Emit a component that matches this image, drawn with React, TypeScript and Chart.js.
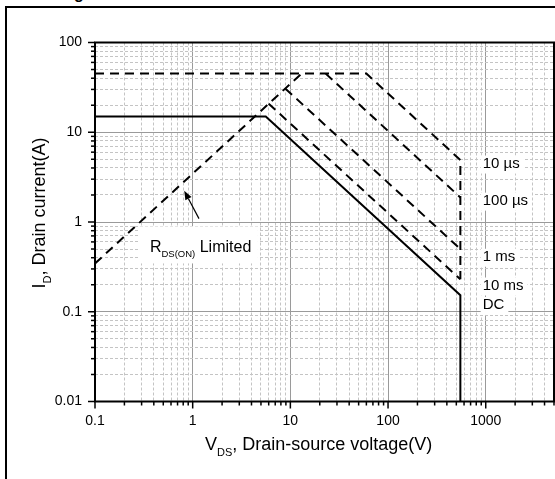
import React, { useEffect, useRef } from 'react';
import { Chart, registerables } from 'chart.js';

Chart.register(...registerables);

const FONT = 'Arial, "Liberation Sans", Helvetica, sans-serif';

// ---- curves: drain-source voltage (V) / drain current (A) ----
const rdsVoltage = [0.1, 13];
const rdsCurrent = [0.345, 45];
const pulse10usVoltage = [0.1, 60, 550, 550];
const pulse10usCurrent = [45, 45, 4.9, 0.23];
const pulse100usVoltage = [23, 550];
const pulse100usCurrent = [45, 1.88];
const pulse1msVoltage = [8.9, 550];
const pulse1msCurrent = [30.6, 0.5];
const pulse10msVoltage = [6.0, 550];
const pulse10msCurrent = [20.8, 0.23];
const dcVoltage = [0.1, 5.6, 550, 550];
const dcCurrent = [15, 15, 0.153, 0.01];

// ---- axes ----
const xMajorTicks = [0.1, 1, 10, 100, 1000];
const xTickLabels = ['0.1', '1', '10', '100', '1000'];
const xMinorTicks = [
  0.2, 0.3, 0.4, 0.5, 0.6, 0.7, 0.8, 0.9,
  2, 3, 4, 5, 6, 7, 8, 9,
  20, 30, 40, 50, 60, 70, 80, 90,
  200, 300, 400, 500, 600, 700, 800, 900,
  2000, 3000, 4000, 5000,
];
const yMajorTicks = [0.01, 0.1, 1, 10, 100];
const yTickLabels = ['0.01', '0.1', '1', '10', '100'];
const yMinorTicks = [
  0.02, 0.03, 0.04, 0.05, 0.06, 0.07, 0.08, 0.09,
  0.2, 0.3, 0.4, 0.5, 0.6, 0.7, 0.8, 0.9,
  2, 3, 4, 5, 6, 7, 8, 9,
  20, 30, 40, 50, 60, 70, 80, 90,
];

// ---- annotations ----
const curveLabels = ['10 µs', '100 µs', '1 ms', '10 ms', 'DC'];
const curveLabelVoltage = [931, 931, 931, 931, 931];
const curveLabelCurrent = [4.48, 1.73, 0.41, 0.196, 0.119];
const rdsLabelVoltage = 0.365;
const rdsLabelCurrent = 0.458;
const arrowTail = { v: 1.16, i: 1.09 };
const arrowHead = { v: 0.82, i: 2.23 };

const pts = (v: number[], i: number[]) => v.map((x, k) => ({ x, y: i[k] }));
const tickList = (maj: number[], min: number[]) =>
  [...maj.map((v) => ({ value: v, major: true })), ...min.map((v) => ({ value: v, major: false }))].sort(
    (a, b) => a.value - b.value
  );

const lineDs = (data: any, dashed: boolean) => ({
  data,
  borderColor: '#000',
  borderWidth: 2,
  borderDash: dashed ? [9, 6] : [],
  pointRadius: 0,
  tension: 0,
  fill: false,
  borderJoinStyle: 'miter',
  borderCapStyle: 'butt',
});

const drawSubText = (
  ctx: CanvasRenderingContext2D,
  parts: { t: string; sub?: boolean }[],
  x: number,
  y: number,
  size: number,
  subSize: number,
  subDrop: number,
  align: 'left' | 'center'
) => {
  const widths = parts.map((p) => {
    ctx.font = `${p.sub ? subSize : size}px ${FONT}`;
    return ctx.measureText(p.t).width;
  });
  const total = widths.reduce((a, b) => a + b, 0);
  let cx = align === 'center' ? x - total / 2 : x;
  ctx.textBaseline = 'alphabetic';
  ctx.textAlign = 'left';
  parts.forEach((p, k) => {
    ctx.font = `${p.sub ? subSize : size}px ${FONT}`;
    ctx.fillText(p.t, cx, y + (p.sub ? subDrop : 0));
    cx += widths[k];
  });
  return total;
};

const decorPlugin = {
  id: 'decor',
  afterDatasetsDraw(chart: any) {
    const ctx: CanvasRenderingContext2D = chart.ctx;
    const xs = chart.scales.x;
    const ys = chart.scales.y;
    const { left, right, top, bottom } = chart.chartArea;
    ctx.save();
    ctx.fillStyle = '#000';

    // curve labels with white boxes
    curveLabels.forEach((t, k) => {
      const px = xs.getPixelForValue(curveLabelVoltage[k]);
      const py = ys.getPixelForValue(curveLabelCurrent[k]);
      ctx.font = `15px ${FONT}`;
      const w = ctx.measureText(t).width;
      ctx.fillStyle = '#fff';
      ctx.fillRect(px - 2, py - 8, w + 6, 18);
      ctx.fillStyle = '#000';
      ctx.textBaseline = 'middle';
      ctx.textAlign = 'left';
      ctx.fillText(t, px, py);
    });

    // RDS(ON) label
    const rx = xs.getPixelForValue(rdsLabelVoltage);
    const ry = ys.getPixelForValue(rdsLabelCurrent);
    ctx.fillStyle = '#fff';
    ctx.fillRect(rx - 10, ry - 26, 118, 37);
    ctx.fillStyle = '#000';
    drawSubText(
      ctx,
      [{ t: 'R' }, { t: 'DS(ON)', sub: true }, { t: ' Limited' }],
      rx,
      ry,
      16,
      9.5,
      5,
      'left'
    );

    // arrow
    const ax = xs.getPixelForValue(arrowTail.v);
    const ay = ys.getPixelForValue(arrowTail.i);
    const hx = xs.getPixelForValue(arrowHead.v);
    const hy = ys.getPixelForValue(arrowHead.i);
    const ang = Math.atan2(hy - ay, hx - ax);
    const hl = 9;
    const hw = 3.5;
    const bx = hx - hl * Math.cos(ang);
    const by = hy - hl * Math.sin(ang);
    ctx.strokeStyle = '#000';
    ctx.lineWidth = 1.2;
    ctx.beginPath();
    ctx.moveTo(ax, ay);
    ctx.lineTo(bx, by);
    ctx.stroke();
    ctx.beginPath();
    ctx.moveTo(hx, hy);
    ctx.lineTo(bx + hw * Math.sin(ang), by - hw * Math.cos(ang));
    ctx.lineTo(bx - hw * Math.sin(ang), by + hw * Math.cos(ang));
    ctx.closePath();
    ctx.fill();

    // plot frame
    ctx.lineWidth = 2;
    ctx.strokeStyle = '#000';
    ctx.strokeRect(left, top, right - left, bottom - top);

    // tick marks
    ctx.lineWidth = 1.5;
    xs.ticks.forEach((t: any) => {
      const p = xs.getPixelForValue(t.value);
      const len = t.major ? 7 : 4;
      ctx.beginPath();
      ctx.moveTo(p, bottom);
      ctx.lineTo(p, bottom + len);
      ctx.stroke();
    });
    ys.ticks.forEach((t: any) => {
      const p = ys.getPixelForValue(t.value);
      const len = t.major ? 7 : 4;
      ctx.beginPath();
      ctx.moveTo(left, p);
      ctx.lineTo(left - len, p);
      ctx.stroke();
    });

    // axis titles
    ctx.fillStyle = '#000';
    drawSubText(
      ctx,
      [{ t: 'V' }, { t: 'DS', sub: true }, { t: ', Drain-source voltage(V)' }],
      205,
      450,
      18,
      11,
      6,
      'left'
    );
    ctx.save();
    ctx.translate(44.5, 213);
    ctx.rotate(-Math.PI / 2);
    drawSubText(
      ctx,
      [{ t: 'I' }, { t: 'D', sub: true }, { t: ', Drain current(A)' }],
      0,
      0,
      18,
      11,
      6,
      'center'
    );
    ctx.restore();
    ctx.restore();
  },
};

export default function App() {
  const ref = useRef<HTMLCanvasElement | null>(null);

  useEffect(() => {
    if (!ref.current) return;
    const chart = new Chart(ref.current, {
      type: 'line',
      data: {
        datasets: [
          lineDs(pts(rdsVoltage, rdsCurrent), true),
          lineDs(pts(pulse10usVoltage, pulse10usCurrent), true),
          lineDs(pts(pulse100usVoltage, pulse100usCurrent), true),
          lineDs(pts(pulse1msVoltage, pulse1msCurrent), true),
          lineDs(pts(pulse10msVoltage, pulse10msCurrent), true),
          lineDs(pts(dcVoltage, dcCurrent), false),
        ] as any,
      },
      options: {
        responsive: false,
        animation: false,
        events: [],
        layout: { padding: { top: 42.5, right: 1, left: 0, bottom: 0 } },
        plugins: { legend: { display: false }, tooltip: { enabled: false } },
        scales: {
          x: {
            type: 'logarithmic',
            position: 'bottom',
            min: 0.1,
            max: 5000,
            afterBuildTicks: (s: any) => {
              s.ticks = tickList(xMajorTicks, xMinorTicks);
            },
            afterFit: (s: any) => {
              s.height = 77.5;
              s.paddingLeft = 0;
              s.paddingRight = 0;
              s.paddingTop = 0;
              s.paddingBottom = 0;
            },
            grid: {
              color: (c: any) => (c.tick && c.tick.major ? '#9a9a9a' : '#c4c4c4'),
              lineWidth: 1,
              drawTicks: false,
            },
            border: { display: false, dash: (c: any) => (c.tick && c.tick.major ? [] : [3, 2]) },
            ticks: {
              autoSkip: false,
              maxRotation: 0,
              minRotation: 0,
              padding: 11,
              color: '#000',
              font: { family: FONT, size: 14 },
              callback: (v: any) => {
                const k = xMajorTicks.indexOf(Number(v));
                return k >= 0 ? xTickLabels[k] : '';
              },
            },
          },
          y: {
            type: 'logarithmic',
            position: 'left',
            min: 0.01,
            max: 100,
            afterBuildTicks: (s: any) => {
              s.ticks = tickList(yMajorTicks, yMinorTicks);
            },
            afterFit: (s: any) => {
              s.width = 95;
              s.paddingLeft = 0;
              s.paddingRight = 0;
              s.paddingTop = 0;
              s.paddingBottom = 0;
            },
            grid: {
              color: (c: any) => (c.tick && c.tick.major ? '#9a9a9a' : '#c4c4c4'),
              lineWidth: 1,
              drawTicks: false,
            },
            border: { display: false, dash: (c: any) => (c.tick && c.tick.major ? [] : [3, 2]) },
            ticks: {
              autoSkip: false,
              padding: 13,
              color: '#000',
              font: { family: FONT, size: 14 },
              callback: (v: any) => {
                const k = yMajorTicks.indexOf(Number(v));
                return k >= 0 ? yTickLabels[k] : '';
              },
            },
          },
        },
      } as any,
      plugins: [decorPlugin],
    });
    return () => chart.destroy();
  }, []);

  return (
    <div style={{ position: 'absolute', left: 0, top: 0, width: 555, height: 479, overflow: 'hidden', background: '#fff' }}>
      <div
        style={{
          position: 'absolute',
          left: 5,
          top: 6,
          width: 548,
          height: 473,
          borderLeft: '2px solid #000',
          borderTop: '2px solid #000',
        }}
      />
      <div
        style={{
          position: 'absolute',
          left: 74,
          top: -15,
          font: `bold 16px ${FONT}`,
          lineHeight: 'normal',
          color: '#000',
        }}
      >
        g
      </div>
      <canvas ref={ref} width={555} height={479} style={{ position: 'absolute', left: 0, top: 0 }} />
    </div>
  );
}
